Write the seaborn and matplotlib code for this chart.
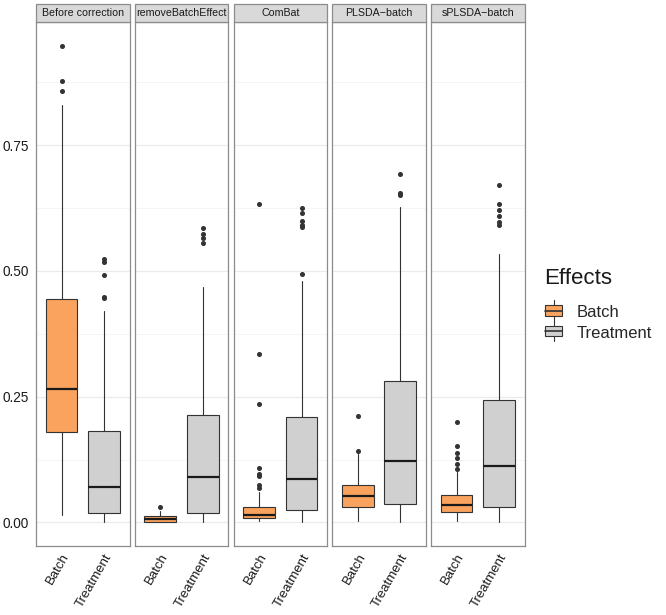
import matplotlib
matplotlib.use("Agg")
import matplotlib.pyplot as plt
from matplotlib.patches import Patch, Rectangle
from matplotlib.lines import Line2D
from matplotlib.legend_handler import HandlerBase
import seaborn as sns

# facet panels
methods = ["Before correction", "removeBatchEffect", "ComBat", "PLSDA\u2212batch", "sPLSDA\u2212batch"]
groups = ["Batch", "Treatment"]

# box statistics (proportion of variance)
batch_lo = [0.014, 0.000, 0.003, 0.003, 0.003]
batch_q1 = [0.179, 0.001, 0.009, 0.030, 0.021]
batch_med = [0.265, 0.007, 0.015, 0.052, 0.034]
batch_q3 = [0.444, 0.012, 0.031, 0.074, 0.054]
batch_hi = [0.830, 0.022, 0.060, 0.135, 0.101]
batch_out = [
    [0.948, 0.878, 0.857],
    [0.031],
    [0.633, 0.335, 0.236, 0.109, 0.096, 0.093, 0.075, 0.069],
    [0.212, 0.142],
    [0.200, 0.152, 0.137, 0.127, 0.117, 0.106],
]

treat_lo = [0.000, 0.000, 0.000, 0.000, 0.000]
treat_q1 = [0.019, 0.018, 0.024, 0.037, 0.030]
treat_med = [0.071, 0.091, 0.086, 0.122, 0.113]
treat_q3 = [0.181, 0.213, 0.210, 0.281, 0.243]
treat_hi = [0.421, 0.468, 0.480, 0.627, 0.533]
treat_out = [
    [0.523, 0.518, 0.491, 0.448, 0.446],
    [0.586, 0.574, 0.566, 0.556],
    [0.626, 0.616, 0.599, 0.592, 0.587, 0.493],
    [0.693, 0.655, 0.650],
    [0.671, 0.633, 0.622, 0.610, 0.598, 0.591],
]

colors = {"Batch": "#F9A35E", "Treatment": "#D0D0D0"}
line_c = "#333333"


# legend key drawn as a little boxplot, like ggplot does
class BoxKey(HandlerBase):
    def create_artists(self, legend, orig, xd, yd, width, height, fontsize, trans):
        cx = xd + width / 2
        box = Rectangle((xd, yd + height * 0.1), width, height * 0.8,
                        facecolor=orig.get_facecolor(), edgecolor=line_c,
                        linewidth=0.8, transform=trans)
        med = Line2D([xd, xd + width], [yd + height / 2] * 2, color=line_c,
                     linewidth=1.2, transform=trans)
        wh1 = Line2D([cx, cx], [yd - height * 0.3, yd + height * 0.1], color=line_c,
                     linewidth=0.8, transform=trans)
        wh2 = Line2D([cx, cx], [yd + height * 0.9, yd + height * 1.3], color=line_c,
                     linewidth=0.8, transform=trans)
        return [box, med, wh1, wh2]


sns.set_theme(style="white")
plt.rcParams["font.family"] = ["Liberation Sans", "DejaVu Sans"]

fig = plt.figure(figsize=(6.66, 6.15), dpi=100)
W, H = 666, 615
left0, step, pw = 36, 98.75, 93.5
top, bottom = 22, 546
strip_h = 18

for i, m in enumerate(methods):
    x0 = left0 + i * step
    ax = fig.add_axes([x0 / W, 1 - bottom / H, pw / W, (bottom - top) / H])
    stats = []
    for g, (lo, q1, md, q3, hi, out) in zip(groups, [
        (batch_lo, batch_q1, batch_med, batch_q3, batch_hi, batch_out),
        (treat_lo, treat_q1, treat_med, treat_q3, treat_hi, treat_out),
    ]):
        stats.append(dict(label=g, whislo=lo[i], q1=q1[i], med=md[i], q3=q3[i],
                          whishi=hi[i], fliers=out[i]))
    bp = ax.bxp(stats, positions=[1, 2], widths=0.75, patch_artist=True,
                showcaps=False,
                boxprops=dict(edgecolor=line_c, linewidth=0.8),
                whiskerprops=dict(color=line_c, linewidth=0.8),
                medianprops=dict(color="#1a1a1a", linewidth=1.6),
                flierprops=dict(marker="o", markersize=2.6, markerfacecolor=line_c,
                                markeredgecolor=line_c))
    for patch, g in zip(bp["boxes"], groups):
        patch.set_facecolor(colors[g])

    ax.set_xlim(0.4, 2.6)
    ax.set_ylim(-0.047, 0.995)
    ax.set_yticks([0.0, 0.25, 0.5, 0.75])
    ax.set_yticks([0.125, 0.375, 0.625, 0.875], minor=True)
    ax.grid(True, which="major", axis="y", color="#EBEBEB", linewidth=0.9)
    ax.grid(True, which="minor", axis="y", color="#F2F2F2", linewidth=0.5)
    ax.set_axisbelow(True)
    ax.set_xticks([1, 2])
    ax.set_xticklabels(groups, rotation=60, ha="right", va="top",
                       rotation_mode="anchor", fontsize=9.5, color="#1a1a1a")
    ax.tick_params(axis="x", length=3, color="#333333", pad=1)
    ax.tick_params(axis="y", which="minor", length=0)
    if i == 0:
        ax.set_yticklabels(["0.00", "0.25", "0.50", "0.75"], fontsize=9.8, color="#1a1a1a")
        ax.tick_params(axis="y", which="major", length=3, color="#333333", pad=2)
    else:
        ax.tick_params(axis="y", which="major", length=0, labelleft=False)
    for sp in ax.spines.values():
        sp.set_color("#8C8C8C")
        sp.set_linewidth(0.9)

    # facet strip
    fig.patches.append(Rectangle((x0 / W, 1 - top / H), pw / W, strip_h / H,
                                 transform=fig.transFigure, facecolor="#D9D9D9",
                                 edgecolor="#8C8C8C", linewidth=0.9))
    fig.text((x0 + pw / 2) / W, 1 - (top - strip_h / 2) / H, m, ha="center",
             va="center", fontsize=7.7, color="#1a1a1a")

# legend: title placed on its own so the gap to the keys matches ggplot
fig.text(544 / W, 1 - 278 / H, "Effects", ha="left", va="center", fontsize=16,
         color="#1a1a1a")
handles = [Patch(facecolor=colors[g], label=g) for g in groups]
leg = fig.legend(handles=handles, loc="upper left",
                 bbox_to_anchor=(537 / W, 1 - 297 / H), frameon=False, borderpad=0,
                 fontsize=12, handlelength=1.0, handleheight=0.8,
                 handletextpad=0.85, labelspacing=0.3,
                 handler_map={Patch: BoxKey()})

fig.savefig("out.png", dpi=100)
